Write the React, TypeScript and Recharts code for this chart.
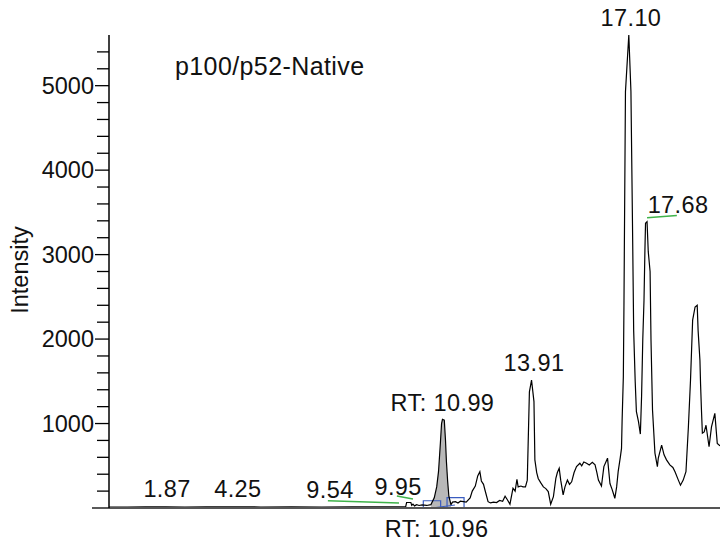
import React from 'react';
import {
  ComposedChart,
  Line,
  Area,
  XAxis,
  YAxis,
  ReferenceDot,
  ReferenceLine,
  ReferenceArea,
} from 'recharts';

// Retention time (min) and intensity of the chromatogram trace
const retentionTimes = [
  0.0, 0.6, 1.2, 1.87, 2.5, 3.2, 4.25, 5.0, 6.0, 7.0, 8.0, 9.0, 9.54, 9.76, 9.79, 9.93, 9.96,
  10.0, 10.05, 10.12, 10.2, 10.3, 10.45, 10.59, 10.7, 10.78, 10.84, 10.9, 10.94, 10.97, 11.03,
  11.07, 11.1, 11.14, 11.18, 11.25, 11.3, 11.4, 11.48, 11.56, 11.66, 11.75, 11.88, 11.95, 12.05,
  12.13, 12.2, 12.25, 12.32, 12.37, 12.47, 12.55, 12.65, 12.75, 12.85, 12.95, 13.03, 13.1, 13.19,
  13.29, 13.36, 13.42, 13.46, 13.55, 13.62, 13.7, 13.76, 13.83, 13.9, 13.98, 14.01, 14.07, 14.12,
  14.2, 14.29, 14.37, 14.45, 14.53, 14.62, 14.7, 14.75, 14.81, 14.86, 14.94, 15.0, 15.08, 15.15,
  15.22, 15.3, 15.38, 15.49, 15.55, 15.62, 15.71, 15.8, 15.9, 15.99, 16.05, 16.1, 16.2, 16.28,
  16.4, 16.48, 16.55, 16.59, 16.64, 16.7, 16.75, 16.82, 16.86, 16.88, 16.92, 16.94, 16.99, 17.1,
  17.17, 17.22, 17.26, 17.31, 17.35, 17.42, 17.48, 17.52, 17.56, 17.6, 17.63, 17.65, 17.7, 17.74,
  17.8, 17.83, 17.88, 17.96, 18.04, 18.07, 18.18, 18.26, 18.34, 18.45, 18.55, 18.62, 18.73, 18.8,
  18.89, 18.98, 19.06, 19.13, 19.2, 19.28, 19.35, 19.38, 19.44, 19.46, 19.49, 19.52, 19.58, 19.64,
  19.74, 19.82, 19.93, 20.01, 20.1,
];
const intensities = [
  12, 12, 14, 14, 12, 13, 14, 12, 13, 12, 14, 13, 15, 15, 65, 65, 30,
  45, 25, 40, 30, 38, 30, 40, 120, 250, 430, 760, 1000, 1050, 1040,
  800, 550, 320, 140, 40, 70, 75, 60, 80, 75, 70, 118, 200, 260,
  380, 430, 320, 280, 210, 75, 60, 70, 65, 90, 80, 140, 100, 45,
  235, 200, 340, 250, 260, 250, 250, 330, 1375, 1515, 1260, 570, 420, 350,
  300, 250, 230, 195, 45, 135, 350, 420, 470, 330, 155, 250, 330, 280,
  310, 420, 490, 530, 500, 545, 530, 510, 540, 510, 420, 330, 260, 490,
  590, 290, 220, 175, 115, 250, 430, 600, 705, 1040, 1550, 2380, 4930, 5600,
  4930, 3400, 2100, 1500, 1140, 1020, 875, 1320, 2000, 2460, 3050, 3370, 3390, 3035,
  2800, 1990, 1160, 650, 490, 590, 745, 630, 570, 510, 480, 430, 330, 270,
  330, 430, 960, 1515, 2225, 2380, 2400, 2100, 1750, 1475, 1160, 885, 900, 980,
  725, 960, 1120, 765, 735,
];

// Integrated (shaded) peak window
const shadedStart = 10.59;
const shadedEnd = 11.25;

// Axis settings
const xDomain = [0, 20.1];
const yDomain = [0, 5600];
const yTicks = [
  0, 200, 400, 600, 800, 1000, 1200, 1400, 1600, 1800, 2000, 2200, 2400, 2600, 2800, 3000,
  3200, 3400, 3600, 3800, 4000, 4200, 4400, 4600, 4800, 5000, 5200, 5400,
];
const yTickLabels = [1000, 2000, 3000, 4000, 5000];

// Peak annotations: text, anchor time, anchor intensity (text baseline)
const peakTexts = ['1.87', '4.25', '9.54', '9.95', 'RT: 10.99', '13.91', '17.10', '17.68', 'RT: 10.96'];
const peakTextTimes = [1.91, 4.24, 7.27, 9.51, 10.97, 13.98, 17.17, 18.72, 10.78];
const peakTextIntensities = [130, 130, 124, 154, 1148, 1625, 5704, 3491, -340];

// Green leader lines from labels to peaks: [t1, v1, t2, v2]
const leaderLines = [
  [7.2, 86, 9.54, 59],
  [9.47, 142, 10.0, 107],
  [17.7, 3435, 18.68, 3464],
];

// Blue peak boundary boxes: [tStart, tEnd, vTop]
const boundaryBoxes = [
  [10.34, 10.91, 86],
  [11.12, 11.68, 123],
];

const titleText = 'p100/p52-Native';
const yAxisTitle = 'Intensity';

const FONT = '"Liberation Sans", Arial, sans-serif';

const data = retentionTimes.map((t, i) => ({
  t,
  v: intensities[i],
  shade: t >= shadedStart && t <= shadedEnd ? intensities[i] : null,
}));

const YTick = (props: any) => {
  const { x, y, payload } = props;
  const v = payload.value;
  const isLabel = yTickLabels.includes(v);
  const len = v === 0 ? 17 : isLabel ? 14 : 12;
  return (
    <g>
      <line x1={x - len} x2={x} y1={y} y2={y} stroke="#000" strokeWidth={1.3} />
      {isLabel && (
        <text x={x - 15} y={y + 8} textAnchor="end" fontSize={23.5} fontFamily={FONT} fill="#111">
          {v}
        </text>
      )}
    </g>
  );
};

export default function App() {
  return (
    <div style={{ position: 'absolute', left: 0, top: 0, width: 720, height: 546, background: '#fff' }}>
      <ComposedChart
        width={720}
        height={546}
        data={data}
        margin={{ top: 35, right: 0, bottom: 8, left: 49 }}
      >
        <XAxis
          dataKey="t"
          type="number"
          domain={xDomain}
          allowDataOverflow
          tick={false}
          tickLine={false}
          axisLine={{ stroke: '#555', strokeWidth: 2.2 }}
          height={30}
        />
        <YAxis
          type="number"
          domain={yDomain}
          allowDataOverflow
          ticks={yTicks}
          interval={0}
          tickSize={0}
          tickMargin={0}
          tickLine={false}
          tick={<YTick />}
          axisLine={{ stroke: '#000', strokeWidth: 1.5 }}
          width={60}
        />
        <Area
          dataKey="shade"
          type="linear"
          fill="#b8b8b8"
          fillOpacity={1}
          stroke="none"
          baseValue={0}
          connectNulls={false}
          isAnimationActive={false}
          dot={false}
          activeDot={false}
        />
        <Line
          dataKey="v"
          type="linear"
          stroke="#000"
          strokeWidth={1.2}
          dot={false}
          activeDot={false}
          isAnimationActive={false}
        />
        {boundaryBoxes.map((b, i) => (
          <ReferenceArea
            key={'box' + i}
            x1={b[0]}
            x2={b[1]}
            y1={0}
            y2={b[2]}
            fill="none"
            fillOpacity={0}
            stroke="#3a5cc0"
            strokeWidth={1.2}
            ifOverflow="visible"
          />
        ))}
        <ReferenceLine
          segment={[
            { x: 10.62, y: 0 },
            { x: 11.38, y: 35 },
          ]}
          stroke="#3a5cc0"
          strokeWidth={1}
        />
        {leaderLines.map((l, i) => (
          <ReferenceLine
            key={'lead' + i}
            segment={[
              { x: l[0], y: l[1] },
              { x: l[2], y: l[3] },
            ]}
            stroke="#3fb34a"
            strokeWidth={1.5}
            ifOverflow="visible"
          />
        ))}
        {peakTexts.map((txt, i) => (
          <ReferenceDot
            key={'lbl' + i}
            x={peakTextTimes[i]}
            y={peakTextIntensities[i]}
            r={0}
            ifOverflow="visible"
            shape={(p: any) => (
              <text
                x={p.cx}
                y={p.cy}
                textAnchor="middle"
                fontSize={23.5}
                fontFamily={FONT}
                fill="#111"
                letterSpacing={0.4}
              >
                {txt}
              </text>
            )}
          />
        ))}
      </ComposedChart>
      <svg
        width={720}
        height={546}
        style={{ position: 'absolute', left: 0, top: 0, pointerEvents: 'none' }}
      >
        <text x={175} y={75} fontSize={25} fontFamily={FONT} fill="#111" letterSpacing={0.4}>
          {titleText}
        </text>
        <text
          transform="translate(28,270) rotate(-90)"
          textAnchor="middle"
          fontSize={23.5}
          fontFamily={FONT}
          fill="#111"
        >
          {yAxisTitle}
        </text>
      </svg>
    </div>
  );
}
